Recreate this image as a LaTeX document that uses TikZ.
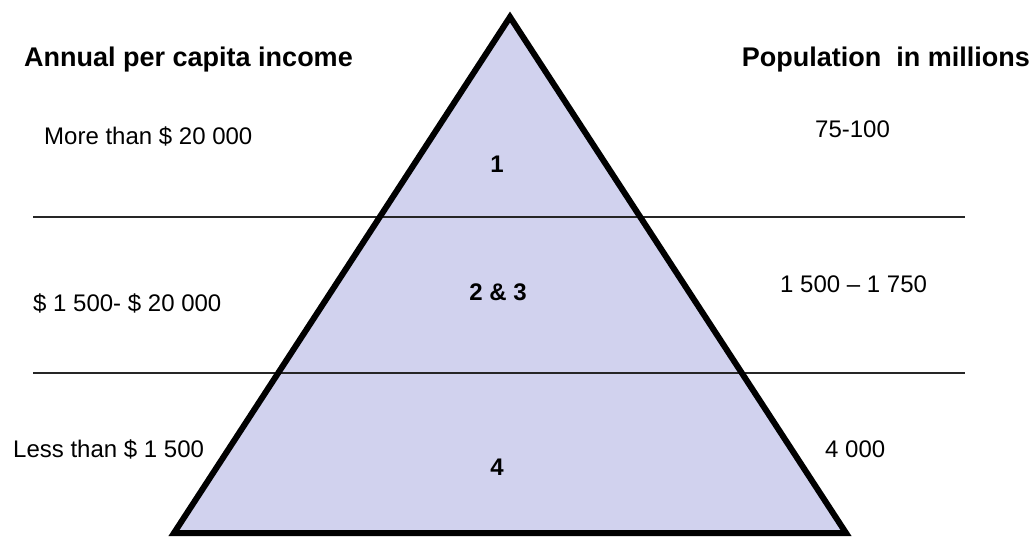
\documentclass[tikz,border=0pt]{standalone}
\usepackage{fontspec}
\setmainfont{Liberation Sans}
\definecolor{pyrfill}{RGB}{209,210,238}
\begin{document}
\begin{tikzpicture}[x=1pt,y=-1pt,
  head/.style={inner sep=0pt, font=\fontsize{27}{30}\selectfont\bfseries},
  txt/.style={inner sep=0pt, font=\fontsize{24}{28}\selectfont},
  lvl/.style={inner sep=0pt, anchor=base, font=\fontsize{24}{28}\selectfont\bfseries},
  sep/.style={line width=1.5pt, black!85},
  pyr/.style={line width=6pt, line join=miter}]
\useasboundingbox (0,0) rectangle (1036,538);
\coordinate (apex) at (510,17);
\coordinate (bl) at (174,533);
\coordinate (br) at (846,533);
\coordinate (l1a) at (33,217);
\coordinate (l1b) at (965,217);
\coordinate (l2a) at (33,373);
\coordinate (l2b) at (965,373);
\fill[pyrfill] (apex) -- (bl) -- (br) -- cycle;
\draw[sep] (l1a) -- (l1b);
\draw[sep] (l2a) -- (l2b);
\draw[pyr] (apex) -- (bl) -- (br) -- cycle;
\node[head, anchor=base west] (hinc) at (24,66) {Annual per capita income};
\node[head, anchor=base east] (hpop) at (1030,66) {Population~\ in millions};
\node[txt, anchor=base west] (i1) at (44,144) {More than \$ 20 000};
\node[txt, anchor=base west] (p1) at (815,137) {75-100};
\node[txt, anchor=base west] (i2) at (33,311) {\$ 1 500- \$ 20 000};
\node[txt, anchor=base west] (p2) at (780,292) {1 500 – 1 750};
\node[txt, anchor=base west] (i3) at (13,457) {Less than \$ 1 500};
\node[txt, anchor=base west] (p3) at (825,457) {4 000};
\node[lvl] (n1) at (497,172) {1};
\node[lvl] (n2) at (498,300) {2 \& 3};
\node[lvl] (n3) at (497,475) {4};
\end{tikzpicture}
\end{document}
